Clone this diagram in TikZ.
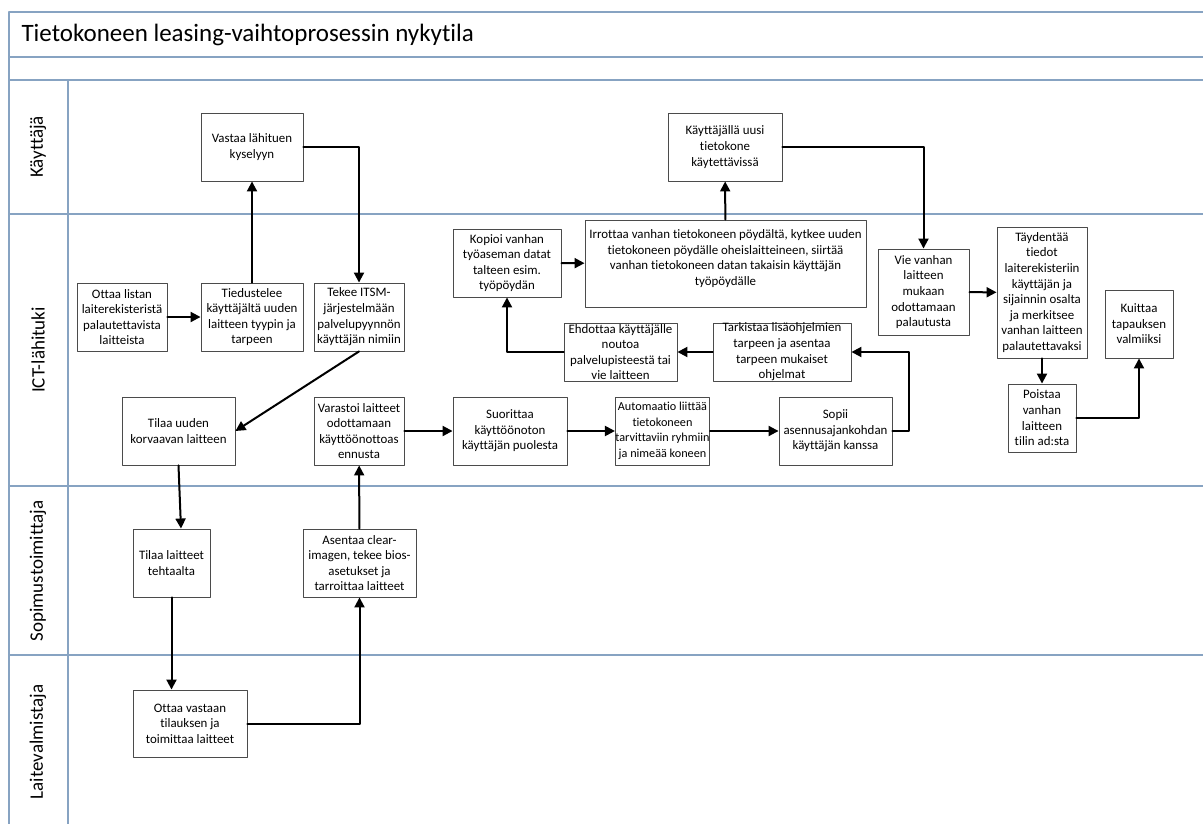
\documentclass[tikz,border=0pt]{standalone}
\usepackage{fontspec}
\setmainfont{Carlito}[Ligatures=NoCommon]
\usetikzlibrary{arrows.meta,positioning,calc}
\definecolor{lanecol}{RGB}{135,163,194}
\definecolor{boxcol}{RGB}{75,75,75}

\begin{document}
\begin{tikzpicture}[
  x=1pt,y=-1pt,
  line cap=round,line join=round,
  lane/.style={draw=lanecol,line width=1.2pt},
  act/.style={draw=boxcol,line width=0.9pt,fill=white,align=center,inner sep=0pt,
    font=\fontsize{12.9}{15.6}\selectfont},
  sz/.style 2 args={minimum width=#1pt,minimum height=#2pt},
  flow/.style={line width=2pt,-{Triangle[length=10pt,width=10pt]}},
  lanename/.style={rotate=90,font=\fontsize{19}{22}\selectfont}
]
  \useasboundingbox (0,0) rectangle (1203,824);

  % Pool frame and lanes
  \draw[lane] (1203,12) -- (9,12) -- (9,824);
  \foreach \y in {57,80,214,486,655}{
    \draw[lane] (9,\y) -- (1203,\y);
  }
  \draw[lane] (68,80) -- (68,824);

  % Title
  \node[anchor=base west,font=\fontsize{25}{30}\selectfont] (title) at (18,42)
    {Tietokoneen leasing-vaihtoprosessin nykytila};

  % Lane names
  \node[lanename] (kayttaja) at (38,147) {Käyttäjä};
  \node[lanename] (ict) at (38,350) {ICT-lähituki};
  \node[lanename] (sopimus) at (38,571) {Sopimustoimittaja};
  \node[lanename] (valmistaja) at (38,742) {Laitevalmistaja};

  % Activities
  \node[act,sz={102}{68}] (vastaa) at (252,147)
    {Vastaa lähituen\\kyselyyn};
  \node[act,sz={90}{68}] (lista) at (122,317)
    {Ottaa listan\\laiterekisteristä\\palautettavista\\laitteista};
  \node[act,sz={102}{68}] (tiedustelee) at (252,317)
    {Tiedustelee\\käyttäjältä uuden\\laitteen tyypin ja\\tarpeen};
  \node[act,sz={90}{68}] (itsm) at (359,317)
    {Tekee ITSM-\\järjestelmään\\palvelupyynnön\\käyttäjän nimiin};
  \node[act,sz={113}{68}] (uusi) at (178.5,431)
    {Tilaa uuden\\korvaavan laitteen};
  \node[act,sz={90}{68}] (varastoi) at (359,431)
    {Varastoi laitteet\\odottamaan\\käyttöönottoas\\ennusta};
  \node[act,sz={114}{68}] (suorittaa) at (510,431)
    {Suorittaa\\käyttöönoton\\käyttäjän puolesta};
  \node[act,sz={93}{68},font=\fontsize{12.2}{15.6}\selectfont] (automaatio) at (662.5,431)
    {Automaatio liittää\\tietokoneen\\tarvittaviin ryhmiin\\ja nimeää koneen};
  \node[act,sz={113}{68}] (sopii) at (835.5,431)
    {Sopii\\asennusajankohdan\\käyttäjän kanssa};
  \node[act,sz={138}{58}] (tarkistaa) at (782,352)
    {Tarkistaa lisäohjelmien\\tarpeen ja asentaa\\tarpeen mukaiset\\ohjelmat};
  \node[act,sz={113}{58}] (ehdottaa) at (620.5,352)
    {Ehdottaa käyttäjälle\\noutoa\\palvelupisteestä tai\\vie laitteen};
  \node[act,sz={108}{68}] (kopioi) at (507,263)
    {Kopioi vanhan\\työaseman datat\\talteen esim.\\työpöydän};
  \node[act,sz={281}{87}] (irrottaa) at (725.5,263.5)
    {Irrottaa vanhan tietokoneen pöydältä, kytkee uuden\\tietokoneen pöydälle oheislaitteineen, siirtää\\vanhan tietokoneen datan takaisin käyttäjän\\työpöydälle\\[-4pt]};
  \node[act,sz={114}{68}] (uusikone) at (725,147)
    {Käyttäjällä uusi\\tietokone\\käytettävissä};
  \node[act,sz={91}{86}] (vie) at (923.5,292)
    {Vie vanhan\\laitteen\\mukaan\\odottamaan\\palautusta};
  \node[act,sz={90}{131}] (taydentaa) at (1042,292.5)
    {Täydentää\\tiedot\\laiterekisteriin\\käyttäjän ja\\sijainnin osalta\\ja merkitsee\\vanhan laitteen\\palautettavaksi};
  \node[act,sz={68}{68}] (poistaa) at (1042,418)
    {Poistaa\\vanhan\\laitteen\\tilin ad:sta};
  \node[act,sz={68}{68}] (kuittaa) at (1139,324)
    {Kuittaa\\tapauksen\\valmiiksi};
  \node[act,sz={77}{68}] (tehdas) at (171.5,563)
    {Tilaa laitteet\\tehtaalta};
  \node[act,sz={113}{68}] (asentaa) at (359.5,563)
    {Asentaa clear-\\imagen, tekee bios-\\asetukset ja\\tarroittaa laitteet};
  \node[act,sz={114}{67}] (toimittaa) at (190,723.5)
    {Ottaa vastaan\\tilauksen ja\\toimittaa laitteet};

  % Flow
  \draw[flow] (lista) -- (tiedustelee);
  \draw[flow] (tiedustelee) -- (vastaa);
  \draw[flow] (vastaa.east) -| (itsm.north);
  \draw[flow] (itsm.south) -- (uusi.east);
  \draw[flow] (uusi.south) -- ([xshift=9.5pt]tehdas.north);
  \draw[flow] (tehdas.south) -- (tehdas.south |- toimittaa.north);
  \draw[flow] (toimittaa.east) -| (asentaa.south);
  \draw[flow] (asentaa) -- (varastoi);
  \draw[flow] (varastoi) -- (suorittaa);
  \draw[flow] (suorittaa) -- (automaatio);
  \draw[flow] (automaatio) -- (sopii);
  \draw[flow] (sopii.east) -- ++(17,0) |- (tarkistaa.east);
  \draw[flow] (tarkistaa) -- (ehdottaa);
  \draw[flow] (ehdottaa.west) -| (kopioi.south);
  \draw[flow] (kopioi) -- (irrottaa);
  \draw[flow] (irrottaa) -- (uusikone);
  \draw[flow] (uusikone.east) -| (vie.north);
  \draw[flow] (vie) -- (taydentaa);
  \draw[flow] (taydentaa) -- (poistaa);
  \draw[flow] (poistaa.east) -| (kuittaa.south);
\end{tikzpicture}
\end{document}
